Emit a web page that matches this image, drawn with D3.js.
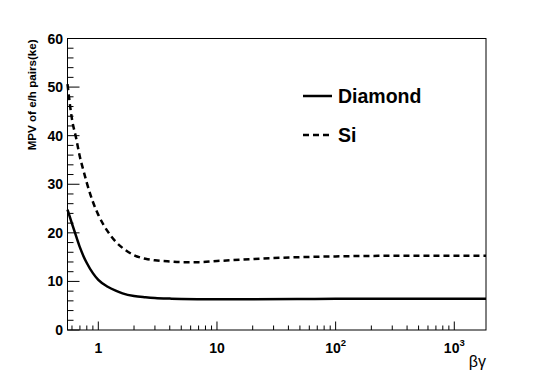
<!DOCTYPE html>
<html><head><meta charset="utf-8">
<script src="https://cdn.jsdelivr.net/npm/d3@7"></script>
<style>body{margin:0;background:#fff}svg{display:block}</style>
</head><body>
<script>
const betaGamma = [0.55,0.6,0.65,0.7,0.75,0.8,0.9,1.0,1.2,1.4,1.6,2.0,2.5,3,4,5,7,10,20,50,100,200,500,1000,1850];
const diamond   = [24.8,21.9,19.3,17.0,15.2,13.8,11.7,10.3,8.9,8.1,7.55,7.0,6.75,6.6,6.47,6.4,6.35,6.33,6.34,6.38,6.42,6.44,6.45,6.45,6.45];
const silicon   = [50.6,43.4,39.5,35.6,32.8,30.3,26.4,23.7,20.3,18.2,16.9,15.4,14.65,14.35,14.1,13.97,13.97,14.2,14.6,15.0,15.15,15.25,15.3,15.3,15.3];
const seriesNames = ["Diamond","Si"];
const yTicks = [0,10,20,30,40,50,60];
const xTicks = [1,10,100,1000];
const xTickLabels = [["1",""],["10",""],["10","2"],["10","3"]];

const W=540,H=388;
const L=67.5,R=486,T=38.5,B=330;
const svg=d3.select("body").append("svg").attr("width",W).attr("height",H);
const x=d3.scaleLog().domain([0.55,1850]).range([L,R]);
const y=d3.scaleLinear().domain([0,60]).range([B,T]);
const font="Liberation Sans, Arial, Helvetica, sans-serif";

// frame
svg.append("rect").attr("x",L).attr("y",T).attr("width",R-L).attr("height",B-T)
  .attr("fill","none").attr("stroke","#000").attr("stroke-width",1);

// y ticks
const g=svg.append("g").attr("stroke","#000").attr("stroke-width",1);
d3.range(0,61,2).forEach(v=>{
  const major=v%10===0;
  g.append("line").attr("x1",L).attr("x2",L+(major?12:6)).attr("y1",y(v)).attr("y2",y(v));
});
// x ticks
const minors=[];
[0.1,1,10,100,1000].forEach(d=>{for(let k=1;k<10;k++){const v=d*k;if(v>=0.55&&v<=1850)minors.push(v);}});
minors.forEach(v=>{
  const major=xTicks.includes(v);
  g.append("line").attr("x1",x(v)).attr("x2",x(v)).attr("y1",B).attr("y2",B-(major?8.5:4.5));
});

svg.selectAll(".yl").data(yTicks).enter().append("text")
  .attr("x",L-4.5).attr("y",d=>y(d)+5).attr("text-anchor","end")
  .attr("font-family",font).attr("font-weight","bold").attr("font-size",14).text(d=>d);

xTicks.forEach((v,i)=>{
  const t=svg.append("text").attr("x",x(v)).attr("y",352.5).attr("text-anchor","middle")
    .attr("font-family",font).attr("font-weight","bold").attr("font-size",14);
  t.append("tspan").text(xTickLabels[i][0]);
  if(xTickLabels[i][1]) t.append("tspan").attr("dy",-7).attr("font-size",9.5).text(xTickLabels[i][1]);
});

svg.append("text").attr("x",R).attr("y",367).attr("text-anchor","end")
  .attr("font-family",font).attr("font-size",16).text("βγ");

svg.append("text").attr("transform",`translate(36,${T+1}) rotate(-90)`).attr("text-anchor","end")
  .attr("font-family",font).attr("font-weight","bold").attr("font-size",11.6).text("MPV of e/h pairs(ke)");

const line=d3.line().x(d=>x(d[0])).y(d=>y(d[1])).curve(d3.curveMonotoneX);
svg.append("path").datum(betaGamma.map((b,i)=>[b,diamond[i]])).attr("d",line)
  .attr("fill","none").attr("stroke","#000").attr("stroke-width",2.5);
svg.append("path").datum(betaGamma.map((b,i)=>[b,silicon[i]])).attr("d",line)
  .attr("fill","none").attr("stroke","#000").attr("stroke-width",2.5).attr("stroke-dasharray","6,4");

// legend
const leg=[{name:seriesNames[0],dash:null,y:96},{name:seriesNames[1],dash:"6,4",y:135}];
leg.forEach(l=>{
  svg.append("line").attr("x1",303).attr("x2",332).attr("y1",l.y).attr("y2",l.y)
    .attr("stroke","#000").attr("stroke-width",2.5).attr("stroke-dasharray",l.dash);
  svg.append("text").attr("x",338).attr("y",l.y+7).attr("font-family",font)
    .attr("font-weight","bold").attr("font-size",19.5).text(l.name);
});
</script>
</body></html>
